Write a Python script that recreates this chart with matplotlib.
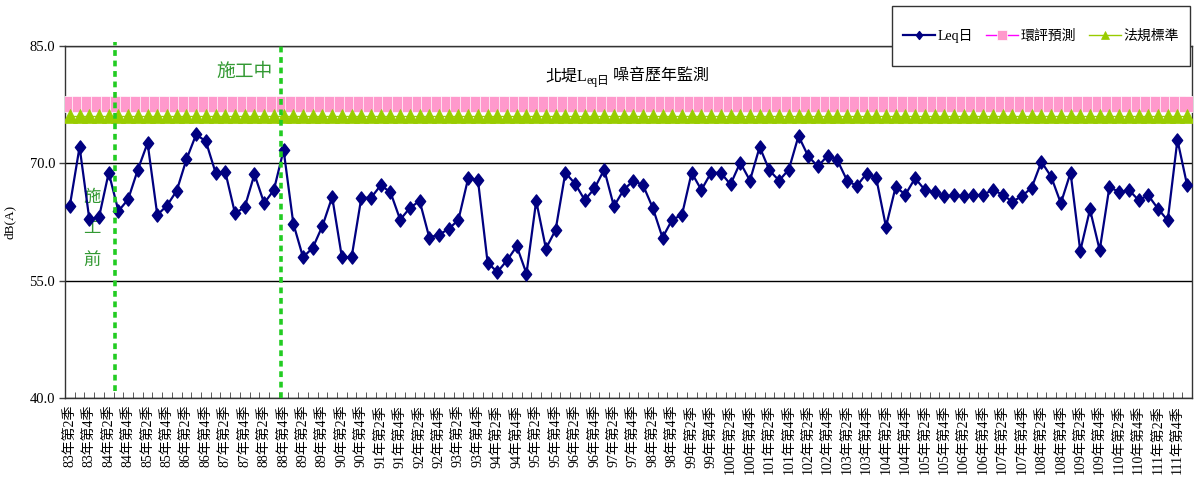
import numpy as np
import matplotlib.pyplot as plt
from matplotlib.patches import Rectangle
from matplotlib.path import Path

plt.rcParams['font.family'] = ['Liberation Serif', 'Noto Sans CJK TC', 'DejaVu Sans']

# quarterly categories 83Q2 .. 112Q1
years = list(range(83, 113))
quarters = [f'{y}年第{q}季' for y in years for q in range(1, 5)][1:117]

leq_day = [
    64.6, 72.1, 62.9, 63.1, 68.8, 63.9, 65.4, 69.2, 72.6, 63.4,
    64.6, 66.5, 70.5, 73.7, 72.8, 68.8, 68.9, 63.6, 64.4, 68.6,
    64.9, 66.6, 71.7, 62.3, 58.0, 59.2, 62.0, 65.7, 58.0, 58.0,
    65.6, 65.6, 67.2, 66.3, 62.8, 64.3, 65.2, 60.5, 60.9, 61.6,
    62.8, 68.1, 67.9, 57.3, 56.1, 57.6, 59.4, 55.9, 65.2, 59.1,
    61.5, 68.8, 67.4, 65.3, 66.8, 69.2, 64.5, 66.6, 67.8, 67.2,
    64.3, 60.5, 62.8, 63.4, 68.8, 66.6, 68.8, 68.8, 67.3, 70.1,
    67.8, 72.1, 69.1, 67.8, 69.2, 73.5, 70.9, 69.6, 71.0, 70.4,
    67.8, 67.1, 68.7, 68.1, 61.9, 67.0, 66.0, 68.1, 66.6, 66.3,
    65.8, 65.9, 65.8, 65.9, 66.0, 66.6, 66.0, 65.1, 65.8, 66.9,
    70.2, 68.3, 64.9, 68.8, 58.8, 64.1, 58.9, 67.0, 66.3, 66.6,
    65.3, 65.9, 64.2, 62.7, 73.0, 67.2,
]
eia_pred = [77.6] * len(quarters)
standard = [76.0] * len(quarters)

series_names = ['Leq日', '環評預測', '法規標準']
y_ticks = [40, 55, 70, 85]

fig = plt.figure(figsize=(11.98, 4.99), dpi=100)
ax = fig.add_axes([65 / 1198, 101 / 499, 1127 / 1198, 352 / 499])

x = np.arange(len(quarters))
diamond = Path([(0, 1), (0.78, 0), (0, -1), (-0.78, 0), (0, 1)],
               [Path.MOVETO, Path.LINETO, Path.LINETO, Path.LINETO, Path.CLOSEPOLY])

h_eia, = ax.plot(x, eia_pred, color='#FF00FF', lw=1, marker='s', ms=11,
                 mfc='#FF99CC', mec='white', mew=0.5, zorder=3)
h_std, = ax.plot(x, standard, color='#99CC00', lw=1, marker='^', ms=10,
                 mfc='#99CC00', mec='#99CC00', mew=0.5, zorder=4)
h_leq, = ax.plot(x, leq_day, color='#000080', lw=1.6, marker=diamond, ms=9.5,
                 mfc='#000080', mec='#000080', zorder=5)

# construction phase markers
dash = dict(color='#22CC22', lw=2.6, ls=(0, (1.6, 1.3)), clip_on=False, zorder=6)
ax.axvline(4.6, ymin=0.02, ymax=1.01, **dash)
ax.axvline(21.7, ymin=0.0, ymax=1.0, **dash)
ax.text(18.0, 81.7, '施工中', color='#339933', fontsize=13.5, ha='center', va='center')
ax.text(2.3, 61.6, '施\n工\n前', color='#339933', fontsize=12.5, ha='center',
        va='center', linespacing=2.3)

# title with subscript
t1 = ax.text(48.9, 80.6, '北堤L', fontsize=11.5, ha='left', va='baseline')
t2 = ax.annotate('eq日', xy=(1, 0), xycoords=t1, xytext=(0, -2),
                 textcoords='offset points', fontsize=8.5, ha='left', va='bottom')
ax.annotate(' 噪音歷年監測', xy=(1, 0), xycoords=(t2, t1), fontsize=11.5,
            ha='left', va='bottom')

ax.set_xlim(-0.5, len(quarters) - 0.5)
ax.set_ylim(40, 85)
ax.set_yticks(y_ticks)
ax.set_yticklabels([f'{v:.1f}' for v in y_ticks], fontsize=10.5)
ax.tick_params(axis='y', length=4, width=1, color='#404040', pad=3)
ax.grid(axis='y', color='black', lw=1)
ax.set_axisbelow(True)

ax.set_xticks(x[::2])
ax.set_xticklabels(quarters[::2], rotation=90, fontsize=10)
ax.set_xticks(np.arange(-0.5, len(quarters)), minor=True)
ax.tick_params(axis='x', which='major', length=0, pad=5)
ax.tick_params(axis='x', which='minor', direction='in', length=4, color='#404040')

for s in ax.spines.values():
    s.set_color('#333333')
    s.set_linewidth(1)

ax.set_ylabel('dB(A)', fontsize=9.5, labelpad=10)

# legend box
fig.patches.append(Rectangle((892 / 1198, 433 / 499), 298 / 1198, 60 / 499,
                             transform=fig.transFigure, facecolor='white',
                             edgecolor='#333333', lw=1, zorder=3))
fig.legend([h_leq, h_eia, h_std], series_names, loc='center',
           bbox_to_anchor=(892 / 1198, 433 / 499, 298 / 1198, 60 / 499),
           bbox_transform=fig.transFigure, ncol=3, frameon=False,
           markerscale=0.6, handlelength=2.3, handletextpad=0.2,
           columnspacing=0.9, fontsize=10).set_zorder(4)

fig.savefig('out.png', dpi=100)
